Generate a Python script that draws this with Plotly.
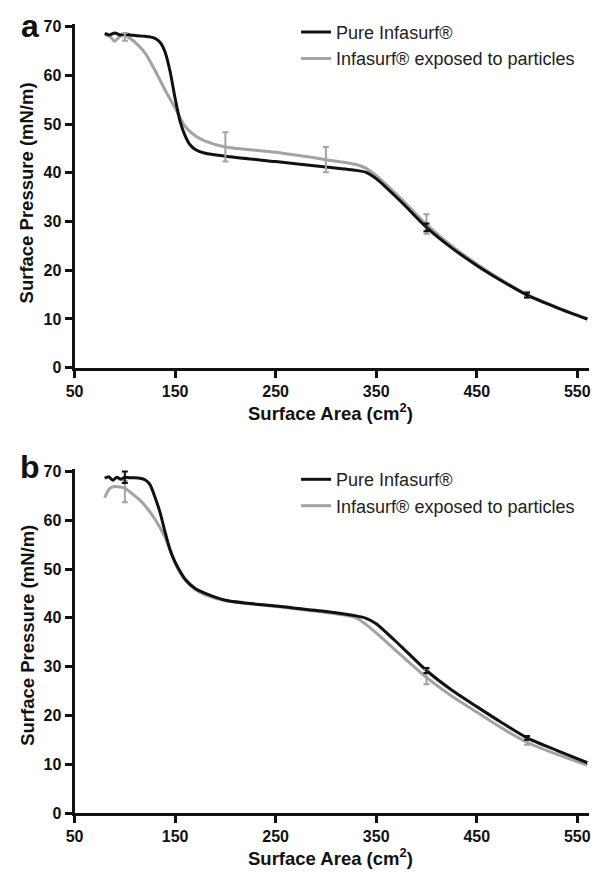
import plotly.graph_objects as go

# ---------------- data ----------------
# Panel a
a_pure_x = [80, 85, 90, 95, 100, 105, 110, 115, 120, 125, 130, 135, 140, 145, 150, 155, 160, 165, 170, 180, 200,
            250, 300, 330, 340, 350, 375, 400, 425, 450, 475, 500, 530, 560]
a_pure_y = [68.6, 68.3, 68.7, 68.3, 68.5, 68.3, 68.2, 68.1, 68.0, 67.9, 67.6, 66.8, 64.8, 60.8, 55.3, 50.5, 47.6,
            45.7, 44.8, 44.0, 43.4, 42.3, 41.2, 40.5, 40.1, 38.8, 34.0, 28.8, 24.6, 21.0, 17.8, 14.9, 12.3, 10.0]
a_exp_x = [80, 85, 90, 95, 100, 105, 110, 120, 130, 140, 150, 155, 160, 170, 180, 200, 250, 300, 330, 340, 350,
           375, 400, 425, 450, 475, 500, 530, 560]
a_exp_y = [68.3, 68.0, 67.0, 68.0, 68.2, 67.6, 66.8, 64.6, 61.0, 57.0, 53.3, 51.3, 49.5, 47.6, 46.5, 45.3, 44.2,
           42.7, 41.7, 40.9, 39.4, 34.6, 29.4, 25.0, 21.3, 18.0, 15.0, 12.4, 10.0]
# error bars panel a
a_pure_err_x = [400, 500]
a_pure_err_y = [28.8, 14.9]
a_pure_err = [0.8, 0.5]
a_exp_err_x = [100, 200, 300, 400, 500]
a_exp_err_y = [67.9, 45.3, 42.7, 29.5, 15.0]
a_exp_err = [0.8, 3.0, 2.6, 2.0, 0.6]

# Panel b
b_pure_x = [80, 84, 88, 92, 96, 100, 105, 110, 115, 120, 125, 130, 135, 140, 145, 150, 155, 160, 170, 180, 200,
            250, 300, 330, 340, 350, 375, 400, 425, 450, 475, 500, 530, 560]
b_pure_y = [68.6, 68.9, 68.2, 68.8, 68.4, 68.8, 68.7, 68.7, 68.6, 68.3, 67.3, 64.7, 61.6, 57.6, 53.9, 51.4, 49.5,
            47.9, 46.0, 45.0, 43.6, 42.4, 41.3, 40.4, 39.9, 38.8, 34.1, 29.2, 25.2, 21.8, 18.5, 15.4, 12.8, 10.3]
b_exp_x = [80, 85, 90, 95, 100, 105, 110, 115, 120, 130, 140, 145, 150, 155, 160, 170, 180, 200, 250, 300, 330,
           340, 350, 375, 400, 425, 450, 475, 500, 530, 560]
b_exp_y = [64.6, 66.5, 66.9, 66.8, 66.6, 65.8, 65.0, 64.1, 63.0, 60.2, 56.5, 53.9, 51.2, 49.2, 47.7, 45.8, 44.7,
           43.5, 42.3, 41.1, 40.0, 38.6, 36.9, 32.3, 27.8, 24.0, 20.7, 17.4, 14.5, 12.0, 9.8]
b_pure_err_x = [100, 400, 500]
b_pure_err_y = [68.8, 29.2, 15.4]
b_pure_err = [1.2, 0.5, 0.4]
b_exp_err_x = [100, 400, 500]
b_exp_err_y = [65.9, 27.9, 14.5]
b_exp_err = [2.2, 1.5, 0.5]

x_ticks = [50, 150, 250, 350, 450, 550]
y_ticks = [0, 10, 20, 30, 40, 50, 60, 70]
name_pure = "Pure Infasurf®"
name_exp = "Infasurf® exposed to particles"

BLACK = "#111111"
GRAY = "#a3a3a3"
W, H = 594, 880

fig = go.Figure()

def add_panel(xa, ya, legend, px, py, ex, ey, pex, pey, pe, eex, eey, ee):
    fig.add_trace(go.Scatter(x=ex, y=ey, mode="lines", name=name_exp, xaxis=xa, yaxis=ya,
                             line=dict(color=GRAY, width=3, shape="spline", smoothing=0.7),
                             legend=legend, legendrank=2, legendgroup=legend + "e"))
    fig.add_trace(go.Scatter(x=px, y=py, mode="lines", name=name_pure, xaxis=xa, yaxis=ya,
                             line=dict(color=BLACK, width=3, shape="spline", smoothing=0.7),
                             legend=legend, legendrank=1, legendgroup=legend + "p"))
    fig.add_trace(go.Scatter(x=eex, y=eey, mode="markers", xaxis=xa, yaxis=ya, showlegend=False,
                             marker=dict(size=1, color=GRAY, opacity=0),
                             error_y=dict(type="data", array=ee, color=GRAY, thickness=2, width=3)))
    fig.add_trace(go.Scatter(x=pex, y=pey, mode="markers", xaxis=xa, yaxis=ya, showlegend=False,
                             marker=dict(size=1, color=BLACK, opacity=0),
                             error_y=dict(type="data", array=pe, color=BLACK, thickness=2, width=3)))

add_panel("x", "y", "legend", a_pure_x, a_pure_y, a_exp_x, a_exp_y,
          a_pure_err_x, a_pure_err_y, a_pure_err, a_exp_err_x, a_exp_err_y, a_exp_err)
add_panel("x2", "y2", "legend2", b_pure_x, b_pure_y, b_exp_x, b_exp_y,
          b_pure_err_x, b_pure_err_y, b_pure_err, b_exp_err_x, b_exp_err_y, b_exp_err)

FONT = "Liberation Sans, Arial, sans-serif"
tickfont = dict(family=FONT, size=16, color=BLACK, weight="bold")

x_dom = [66.7 / W, 590.3 / W]
ya_dom = [1 - 368 / H, 1 - 18.5 / H]
yb_dom = [1 - 821 / H, 1 - 471 / H]

def xax(anchor, dom):
    return dict(domain=dom, anchor=anchor, range=[50, 562], tickvals=x_ticks, showline=True,
                linecolor=BLACK, linewidth=3, ticks="outside", ticklen=7, tickwidth=3, tickcolor=BLACK,
                showgrid=False, zeroline=False, tickfont=tickfont)

def yax(anchor, dom):
    return dict(domain=dom, anchor=anchor, range=[0, 70.5], tickvals=y_ticks, showline=True,
                linecolor=BLACK, linewidth=3, ticks="outside", ticklen=7, tickwidth=3, tickcolor=BLACK,
                showgrid=False, zeroline=False, tickfont=tickfont)

legend_common = dict(font=dict(family=FONT, size=18, color="#222222"), bgcolor="rgba(0,0,0,0)",
                     tracegroupgap=3, xanchor="left", yanchor="top", itemwidth=30, traceorder="normal")

fig.update_layout(
    width=W, height=H, margin=dict(l=0, r=0, t=0, b=0),
    paper_bgcolor="white", plot_bgcolor="white",
    xaxis=xax("y", x_dom), yaxis=yax("x", ya_dom),
    xaxis2=xax("y2", x_dom), yaxis2=yax("x2", yb_dom),
    legend=dict(x=292 / W, y=1 - 8 / H, **legend_common),
    legend2=dict(x=292 / W, y=1 - 463 / H, **legend_common),
)

title_font = dict(family=FONT, size=18.5, color=BLACK, weight="bold")
annotations = []
for yc_title, yc_ytitle, label, ylab in [(413, 190, "a", 20), (866, 640, "b", 469)]:
    annotations.append(dict(text="Surface Area (cm<sup>2</sup>)", x=327 / W, y=1 - yc_title / H,
                            xref="paper", yref="paper", showarrow=False, font=title_font,
                            xanchor="center", yanchor="middle"))
    annotations.append(dict(text="Surface Pressure (mN/m)", x=18 / W, y=1 - yc_ytitle / H,
                            xref="paper", yref="paper", showarrow=False, font=title_font, textangle=-90,
                            xanchor="center", yanchor="middle"))
    annotations.append(dict(text=label, x=21 / W, y=1 - ylab / H, xref="paper", yref="paper",
                            showarrow=False, xanchor="center", yanchor="middle",
                            font=dict(family=FONT, size=32, color=BLACK, weight="bold")))
fig.update_layout(annotations=annotations)

fig.write_html("out.html")
